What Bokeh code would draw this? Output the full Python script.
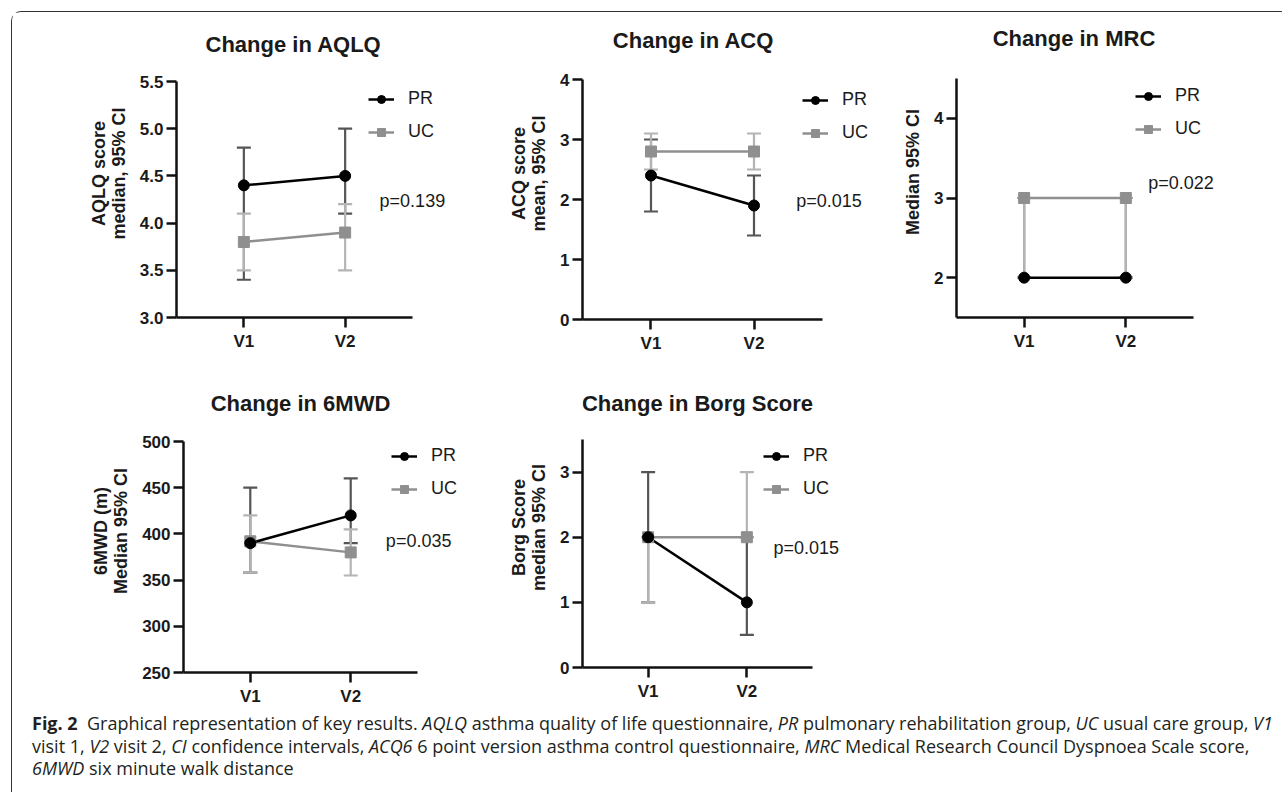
from bokeh.plotting import figure
from bokeh.models import (Range1d, FixedTicker, Whisker, TeeHead, ColumnDataSource,
                          Legend, LegendItem, Label, Div, NumeralTickFormatter)
from bokeh.layouts import row, column
from bokeh.embed import file_html
from bokeh.resources import INLINE

# ---------------- data ----------------
visits = ["V1", "V2"]

aqlq_pr = [4.4, 4.5]
aqlq_pr_lo = [3.4, 4.1]
aqlq_pr_hi = [4.8, 5.0]
aqlq_uc = [3.8, 3.9]
aqlq_uc_lo = [3.5, 3.5]
aqlq_uc_hi = [4.1, 4.2]

acq_pr = [2.4, 1.9]
acq_pr_lo = [1.8, 1.4]
acq_pr_hi = [3.0, 2.4]
acq_uc = [2.8, 2.8]
acq_uc_lo = [2.5, 2.5]
acq_uc_hi = [3.1, 3.1]

mrc_pr = [2, 2]
mrc_pr_lo = [2, 2]
mrc_pr_hi = [3, 3]
mrc_uc = [3, 3]
mrc_uc_lo = [2, 2]
mrc_uc_hi = [3, 3]

mwd_pr = [390, 420]
mwd_pr_lo = [358, 390]
mwd_pr_hi = [450, 460]
mwd_uc = [392, 380]
mwd_uc_lo = [358, 355]
mwd_uc_hi = [420, 405]

borg_pr = [2, 1]
borg_pr_lo = [1, 0.5]
borg_pr_hi = [3, 2]
borg_uc = [2, 2]
borg_uc_lo = [1, 2]
borg_uc_hi = [2, 3]

titles = ["Change in AQLQ", "Change in ACQ", "Change in MRC",
          "Change in 6MWD", "Change in Borg Score"]
p_values = ["p=0.139", "p=0.015", "p=0.022", "p=0.035", "p=0.015"]

# ---------------- style ----------------
FONT = "Liberation Sans"
PR_COLOR = "#000000"
PR_ERR = "#555555"
UC_COLOR = "#8f8f8f"
UC_ERR = "#b4b4b4"
AXIS_COLOR = "#111111"
TEXT_COLOR = "#1a1a1a"
X0, X1 = 0.335, 2.665
UP = 52  # extra room above the axes for the panel title


def panel(title, title_pos, ylabel, y0, y1, yticks, fmt, pr, pr_lo, pr_hi, uc, uc_lo, uc_hi,
          ptext, ppos, legend_loc, fw, fh, bl, br, bt, bb, ext):
    ppu = fw / (X1 - X0)
    ppy = fh / (y1 - y0)
    p = figure(frame_width=fw + ext, frame_height=fh + UP, min_border_left=bl,
               min_border_right=br - ext, min_border_top=bt - UP, min_border_bottom=bb,
               x_range=Range1d(X0, X1 + ext / ppu), y_range=Range1d(y0, y1 + UP / ppy),
               output_backend="svg", toolbar_location=None, tools="")
    p.frame_align = False
    p.outline_line_color = None
    p.xgrid.visible = False
    p.ygrid.visible = False
    p.background_fill_color = "white"
    p.border_fill_color = "white"

    xs = [i + 1 for i in range(len(visits))]

    for ax in (p.xaxis[0], p.yaxis[0]):
        ax.axis_line_width = 2.5
        ax.axis_line_color = AXIS_COLOR
        ax.major_tick_line_width = 2.5
        ax.major_tick_line_color = AXIS_COLOR
        ax.major_tick_out = 10
        ax.major_tick_in = 0
        ax.minor_tick_line_color = None
        ax.major_label_text_font = FONT
        ax.major_label_text_font_size = "17px"
        ax.major_label_text_font_style = "bold"
        ax.major_label_text_color = TEXT_COLOR

    p.xaxis.bounds = (X0, X1)
    p.xaxis.ticker = FixedTicker(ticks=xs)
    p.xaxis.major_label_overrides = {x: v for x, v in zip(xs, visits)}
    p.xaxis.major_label_standoff = 4

    p.yaxis.bounds = (y0, y1)
    p.yaxis.ticker = FixedTicker(ticks=yticks)
    p.yaxis.formatter = NumeralTickFormatter(format=fmt)
    p.yaxis.major_label_standoff = 3
    p.yaxis.axis_label = ylabel
    p.yaxis.axis_label_text_font = FONT
    p.yaxis.axis_label_text_font_size = "18px"
    p.yaxis.axis_label_text_font_style = "bold"
    p.yaxis.axis_label_text_color = TEXT_COLOR
    p.yaxis.axis_label_text_line_height = 1.0
    p.yaxis.axis_label_standoff = 8

    src_pr = ColumnDataSource(dict(x=xs, y=pr, lo=pr_lo, hi=pr_hi))
    src_uc = ColumnDataSource(dict(x=xs, y=uc, lo=uc_lo, hi=uc_hi))

    for src, col in ((src_pr, PR_ERR), (src_uc, UC_ERR)):
        w = Whisker(base="x", lower="lo", upper="hi", source=src,
                    line_color=col, line_width=2.2, level="underlay",
                    upper_head=TeeHead(size=14, line_color=col, line_width=2.2),
                    lower_head=TeeHead(size=14, line_color=col, line_width=2.2))
        p.add_layout(w)

    l_uc = p.line("x", "y", source=src_uc, line_color=UC_COLOR, line_width=2.5)
    l_pr = p.line("x", "y", source=src_pr, line_color=PR_COLOR, line_width=2.5)
    m_uc = p.scatter("x", "y", source=src_uc, marker="square", size=11,
                     fill_color=UC_COLOR, line_color=UC_COLOR)
    m_pr = p.scatter("x", "y", source=src_pr, marker="circle", size=11,
                     fill_color=PR_COLOR, line_color=PR_COLOR)

    leg = Legend(items=[LegendItem(label="PR", renderers=[l_pr, m_pr]),
                        LegendItem(label="UC", renderers=[l_uc, m_uc])],
                 location=legend_loc, padding=0, margin=0, spacing=12,
                 glyph_width=26, glyph_height=20, label_height=20, label_standoff=14,
                 border_line_color=None, background_fill_alpha=0,
                 label_text_font=FONT, label_text_font_size="18px",
                 label_text_color=TEXT_COLOR)
    p.add_layout(leg, "center")

    p.add_layout(Label(x=ppos[0], y=ppos[1], text=ptext, text_font=FONT,
                       text_font_size="18px", text_color=TEXT_COLOR,
                       text_baseline="middle", text_align="left"))

    # panel title, centred over the axes
    p.add_layout(Label(x=(X0 + X1) / 2 + title_pos[0] / ppu, y=y1 + title_pos[1] / ppy,
                       text=title, text_font=FONT, text_font_size="22px",
                       text_font_style="bold", text_color=TEXT_COLOR,
                       text_baseline="middle", text_align="center"))
    return p


p1 = panel(titles[0], (-1, 37), "AQLQ score\nmedian, 95% CI", 3.0, 5.5,
           [3.0, 3.5, 4.0, 4.5, 5.0, 5.5], "0.0",
           aqlq_pr, aqlq_pr_lo, aqlq_pr_hi, aqlq_uc, aqlq_uc_lo, aqlq_uc_hi,
           p_values[0], (2.34, 4.23), (192, 175), 236, 236, 164, 68, 69, 38, 45)
p2 = panel(titles[1], (-9, 39), "ACQ score\nmean, 95% CI", 0, 4,
           [0, 1, 2, 3, 4], "0",
           acq_pr, acq_pr_lo, acq_pr_hi, acq_uc, acq_uc_lo, acq_uc_hi,
           p_values[1], (2.41, 1.98), (220, 176), 240, 240, 102, 68, 67, 36, 60)
p3 = panel(titles[2], (-1, 40), "Median 95% CI", 1.5, 4.5,
           [2, 3, 4], "0",
           mrc_pr, mrc_pr_lo, mrc_pr_hi, mrc_uc, mrc_uc_lo, mrc_uc_hi,
           p_values[2], (2.22, 3.19), (179, 178), 237, 239, 66, 79, 66, 38, 32)
p4 = panel(titles[3], (0, 38), "6MWD (m)\nMedian 95% CI", 250, 500,
           [250, 300, 350, 400, 450, 500], "0",
           mwd_pr, mwd_pr_lo, mwd_pr_hi, mwd_uc, mwd_uc_lo, mwd_uc_hi,
           p_values[3], (2.35, 391.8), (208, 173), 234, 231, 171, 63, 86, 37, 42)
p5 = panel(titles[4], (0, 36), "Borg Score\nmedian 95% CI", 0, 3.5,
           [0, 1, 2, 3], "0",
           borg_pr, borg_pr_lo, borg_pr_hi, borg_uc, borg_uc_lo, borg_uc_hi,
           p_values[4], (2.27, 1.84), (181, 168), 230, 228, 102, 78, 84, 44, 36)

caption_html = (
    '<div style="font-family:\'Open Sans\',sans-serif;font-size:18px;line-height:22.5px;'
    'color:#231f20;white-space:nowrap;padding-left:15px;margin-top:-4px;">'
    '<b>Fig.&nbsp;2</b>&nbsp; Graphical representation of key results. <i>AQLQ</i> asthma quality of life '
    'questionnaire, <i>PR</i> pulmonary rehabilitation group, <i>UC</i> usual care group, <i>V1</i><br>'
    'visit 1, <i>V2</i> visit 2, <i>CI</i> confidence intervals, <i>ACQ6</i> 6 point version asthma control '
    'questionnaire, <i>MRC</i> Medical Research Council Dyspnoea Scale score,<br>'
    '<i>6MWD</i> six minute walk distance</div>'
)
caption = Div(text=caption_html, width=1260, height=76)

layout = column(row(p1, p2, p3), row(p4, p5), caption, margin=(11, 0, 0, 11),
                styles={"border-left": "1.5px solid #333", "border-top": "1.5px solid #333",
                        "border-top-left-radius": "10px"})

open("out.html", "w").write(file_html(layout, INLINE))
